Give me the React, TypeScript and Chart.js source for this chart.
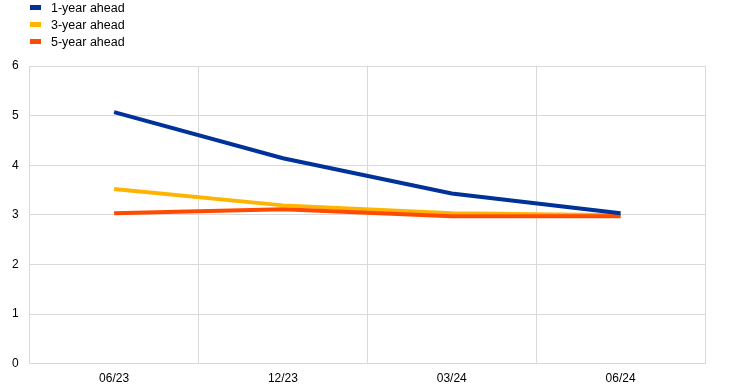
import React, { useEffect, useRef } from "react";
import { Chart, registerables } from "chart.js";

Chart.register(...registerables);

const categories = ["06/23", "12/23", "03/24", "06/24"];
const seriesNames = ["1-year ahead", "3-year ahead", "5-year ahead"];
const oneYear = [5.07, 4.14, 3.43, 3.03];
const threeYear = [3.52, 3.19, 3.03, 2.99];
const fiveYear = [3.03, 3.11, 2.97, 2.97];
const yTicks = [0, 1, 2, 3, 4, 5, 6];
const colors = ["#003299", "#ffb400", "#ff4b00"];
const FONT = "'Liberation Sans', Arial, sans-serif";

export default function App() {
  const ref = useRef<HTMLCanvasElement | null>(null);
  useEffect(() => {
    document.body.style.margin = "0";
    const ctx = ref.current!;
    const values = [oneYear, threeYear, fiveYear];
    const orders = [0, 2, 1];
    const chart = new Chart(ctx, {
      type: "line",
      data: {
        labels: categories,
        datasets: seriesNames.map((name, i) => ({
          label: name,
          data: values[i],
          borderColor: colors[i],
          backgroundColor: colors[i],
          borderWidth: 4,
          pointRadius: 0,
          tension: 0,
          fill: false,
          order: orders[i],
        })),
      },
      options: {
        responsive: false,
        animation: false,
        layout: { padding: { left: 1, right: 37, top: 66, bottom: -6 } },
        plugins: { legend: { display: false }, tooltip: { enabled: false } },
        scales: {
          x: {
            offset: true,
            grid: { offset: true, color: "#d9d9d9", drawTicks: false, lineWidth: 1 },
            border: { color: "#d9d9d9" },
            ticks: { color: "#000", font: { family: FONT, size: 12 }, padding: 8, maxRotation: 0 },
          },
          y: {
            min: yTicks[0],
            max: yTicks[yTicks.length - 1],
            afterBuildTicks: (axis: any) => {
              axis.ticks = yTicks.map((v) => ({ value: v }));
            },
            grid: { color: "#d9d9d9", drawTicks: false, lineWidth: 1 },
            border: { color: "#d9d9d9" },
            ticks: { color: "#000", font: { family: FONT, size: 12 }, padding: 11 },
          },
        },
      },
    });
    return () => chart.destroy();
  }, []);

  return (
    <div style={{ position: "fixed", left: 0, top: 0, width: 742, height: 388, background: "#fff", overflow: "hidden" }}>
      <canvas ref={ref} width={742} height={388} style={{ position: "absolute", left: 0, top: 0 }} />
      <div style={{ position: "absolute", left: 30, top: -1, fontFamily: FONT, fontSize: 12.5, color: "#000" }}>
        {seriesNames.map((name, i) => (
          <div key={name} style={{ display: "flex", alignItems: "center", height: 17 }}>
            <span style={{ display: "inline-block", width: 11, height: 5, background: colors[i], marginRight: 10 }} />
            <span>{name}</span>
          </div>
        ))}
      </div>
    </div>
  );
}
